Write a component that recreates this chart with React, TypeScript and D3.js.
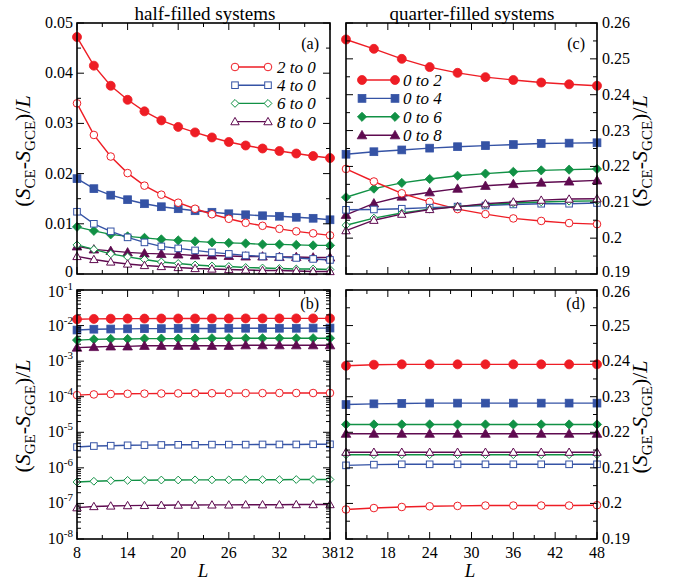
import * as d3 from "d3";

// System sizes
const L_HALF = [8, 10, 12, 14, 16, 18, 20, 22, 24, 26, 28, 30, 32, 34, 36, 38];
const L_QUARTER = [12, 16, 20, 24, 28, 32, 36, 40, 44, 48];

// (a) half-filled, CE - GCE
const aRedFilled = [0.0472, 0.0415, 0.0375, 0.0347, 0.0324, 0.0306, 0.0293, 0.0282, 0.0272, 0.0263, 0.0256, 0.025, 0.0245, 0.024, 0.0235, 0.0231];
const aRedOpen = [0.034, 0.0277, 0.0234, 0.0201, 0.0176, 0.0158, 0.0142, 0.013, 0.0119, 0.011, 0.0102, 0.0096, 0.009, 0.0085, 0.0081, 0.0077];
const aBlueFilled = [0.019, 0.017, 0.0157, 0.0148, 0.014, 0.0134, 0.013, 0.0126, 0.0123, 0.012, 0.0118, 0.0116, 0.0115, 0.0113, 0.0111, 0.0108];
const aBlueOpen = [0.0124, 0.01, 0.0085, 0.0073, 0.0063, 0.0055, 0.0051, 0.0047, 0.0043, 0.004, 0.0037, 0.0035, 0.0034, 0.0032, 0.003, 0.0028];
const aGreenFilled = [0.0094, 0.0086, 0.0079, 0.0075, 0.0072, 0.0069, 0.0067, 0.0065, 0.0063, 0.0062, 0.0061, 0.0059, 0.0059, 0.0058, 0.0057, 0.0057];
const aGreenOpen = [0.0058, 0.0049, 0.004, 0.0034, 0.0029, 0.0024, 0.0021, 0.0018, 0.0016, 0.0015, 0.0013, 0.0012, 0.0011, 0.001, 0.001, 0.0009];
const aPurpleFilled = [0.0055, 0.0049, 0.0046, 0.0043, 0.0041, 0.004, 0.0039, 0.0037, 0.0037, 0.0036, 0.0035, 0.0035, 0.0034, 0.0034, 0.0033, 0.0033];
const aPurpleOpen = [0.0035, 0.0029, 0.0024, 0.002, 0.0017, 0.0015, 0.0013, 0.0011, 0.001, 0.0009, 0.0008, 0.0007, 0.0007, 0.0006, 0.0005, 0.0005];

// (b) half-filled, GE - GGE (log)
const bRedFilled = [0.015, 0.0154, 0.0156, 0.0157, 0.0157, 0.0158, 0.0158, 0.0158, 0.0158, 0.0158, 0.0159, 0.0159, 0.0159, 0.0159, 0.0159, 0.0159];
const bBlueFilled = [0.0075, 0.0079, 0.008, 0.0081, 0.0082, 0.0082, 0.0083, 0.0083, 0.0083, 0.0084, 0.0084, 0.0084, 0.0084, 0.0084, 0.0085, 0.0085];
const bGreenFilled = [0.0039, 0.0041, 0.0042, 0.0042, 0.0043, 0.0043, 0.0043, 0.0043, 0.0044, 0.0044, 0.0044, 0.0044, 0.0044, 0.0044, 0.0044, 0.0044];
const bPurpleFilled = [0.0024, 0.0025, 0.0026, 0.0026, 0.0027, 0.0027, 0.0027, 0.0027, 0.0027, 0.0027, 0.0028, 0.0028, 0.0028, 0.0028, 0.0028, 0.0028];
const bRedOpen = [1.11e-4, 1.16e-4, 1.19e-4, 1.21e-4, 1.22e-4, 1.23e-4, 1.24e-4, 1.25e-4, 1.25e-4, 1.26e-4, 1.26e-4, 1.26e-4, 1.27e-4, 1.27e-4, 1.27e-4, 1.27e-4];
const bBlueOpen = [3.85e-6, 4.1e-6, 4.2e-6, 4.3e-6, 4.35e-6, 4.4e-6, 4.45e-6, 4.45e-6, 4.5e-6, 4.5e-6, 4.5e-6, 4.55e-6, 4.55e-6, 4.55e-6, 4.6e-6, 4.6e-6];
const bGreenOpen = [4.0e-7, 4.2e-7, 4.35e-7, 4.45e-7, 4.5e-7, 4.55e-7, 4.55e-7, 4.6e-7, 4.6e-7, 4.6e-7, 4.65e-7, 4.65e-7, 4.65e-7, 4.7e-7, 4.7e-7, 4.7e-7];
const bPurpleOpen = [7.6e-8, 8.2e-8, 8.5e-8, 8.7e-8, 8.8e-8, 8.9e-8, 9.0e-8, 9.0e-8, 9.1e-8, 9.1e-8, 9.2e-8, 9.2e-8, 9.2e-8, 9.3e-8, 9.3e-8, 9.3e-8];

// (c) quarter-filled, CE - GCE
const cRedFilled = [0.2554, 0.2528, 0.25, 0.2477, 0.2461, 0.2449, 0.2441, 0.2434, 0.2429, 0.2425];
const cBlueFilled = [0.2234, 0.2241, 0.2246, 0.2251, 0.2255, 0.2258, 0.2261, 0.2264, 0.2265, 0.2266];
const cGreenFilled = [0.2114, 0.2138, 0.2154, 0.2165, 0.2174, 0.218, 0.2185, 0.2189, 0.2191, 0.2193];
const cPurpleFilled = [0.2065, 0.2097, 0.2116, 0.2128, 0.2138, 0.2146, 0.2151, 0.2155, 0.2158, 0.2161];
const cRedOpen = [0.2193, 0.2158, 0.2125, 0.2101, 0.2081, 0.2067, 0.2055, 0.2048, 0.2042, 0.2039];
const cBlueOpen = [0.2079, 0.208, 0.2082, 0.2085, 0.2088, 0.2091, 0.2094, 0.2096, 0.2096, 0.2098];
const cGreenOpen = [0.2036, 0.2056, 0.207, 0.2081, 0.2088, 0.2094, 0.2098, 0.2101, 0.2103, 0.2104];
const cPurpleOpen = [0.2021, 0.205, 0.2067, 0.208, 0.2088, 0.2096, 0.2101, 0.2106, 0.2109, 0.211];

// (d) quarter-filled, GE - GGE
const dRedFilled = [0.2387, 0.239, 0.2391, 0.2391, 0.2391, 0.2391, 0.2391, 0.2391, 0.2391, 0.2391];
const dBlueFilled = [0.2278, 0.228, 0.2281, 0.2282, 0.2282, 0.2282, 0.2282, 0.2282, 0.2282, 0.2282];
const dGreenFilled = [0.2222, 0.2222, 0.2222, 0.2222, 0.2222, 0.2222, 0.2222, 0.2222, 0.2222, 0.2222];
const dPurpleFilled = [0.2196, 0.2196, 0.2196, 0.2196, 0.2196, 0.2196, 0.2196, 0.2196, 0.2196, 0.2196];
const dPurpleOpen = [0.2144, 0.2144, 0.2144, 0.2144, 0.2144, 0.2144, 0.2144, 0.2144, 0.2144, 0.2144];
const dGreenOpen = [0.2137, 0.2137, 0.2137, 0.2137, 0.2137, 0.2137, 0.2137, 0.2137, 0.2137, 0.2137];
const dBlueOpen = [0.2107, 0.2109, 0.211, 0.211, 0.211, 0.211, 0.211, 0.211, 0.211, 0.211];
const dRedOpen = [0.1983, 0.1987, 0.199, 0.1992, 0.1993, 0.1994, 0.1994, 0.1994, 0.1994, 0.1995];

const legendHalf = ["2 to 0", "4 to 0", "6 to 0", "8 to 0"];
const legendQuarter = ["0 to 2", "0 to 4", "0 to 6", "0 to 8"];

const RED = "#ee1d25";
const BLUE = "#3553a5";
const GREEN = "#119145";
const PURPLE = "#5f0b50";
const COLORS = [RED, BLUE, GREEN, PURPLE];
const SHAPES = ["circle", "square", "diamond", "triangle"];

const FONT = "Liberation Serif, serif";

type Series = { values: number[]; color: string; shape: string; filled: boolean };

const marker = (shape: string, x: number, y: number, color: string, filled: boolean, key: string) => {
  const fill = filled ? color : "white";
  const r = filled ? 4.5 : 3.8;
  const sw = filled ? 0.8 : 1;
  if (shape === "circle")
    return <circle key={key} cx={x} cy={y} r={r} fill={fill} stroke={color} strokeWidth={sw} />;
  if (shape === "square") {
    const s = filled ? 3.9 : 3.3;
    return <rect key={key} x={x - s} y={y - s} width={2 * s} height={2 * s} fill={fill} stroke={color} strokeWidth={sw} />;
  }
  if (shape === "diamond") {
    const s = filled ? 4.6 : 3.9;
    return <path key={key} d={`M${x},${y - s}L${x + s},${y}L${x},${y + s}L${x - s},${y}Z`} fill={fill} stroke={color} strokeWidth={sw} />;
  }
  const s = filled ? 4.8 : 4.2;
  return <path key={key} d={`M${x},${y - s}L${x + s},${y + s * 0.75}L${x - s},${y + s * 0.75}Z`} fill={fill} stroke={color} strokeWidth={sw} />;
};

const seriesMarks = (series: Series[], xs: number[], x: (v: number) => number, y: (v: number) => number, id: string) => {
  const line = d3.line<number>().x((_, i) => x(xs[i])).y(d => y(d));
  return series.map((s, si) => (
    <g key={`${id}-${si}`}>
      <path d={line(s.values) || ""} fill="none" stroke={s.color} strokeWidth={1.4} />
      {s.values.map((v, i) => marker(s.shape, x(xs[i]), y(v), s.color, s.filled, `${id}-${si}-${i}`))}
    </g>
  ));
};

const build = (filled: number[][], open: number[][]): Series[] => [
  ...filled.map((v, i) => ({ values: v, color: COLORS[i], shape: SHAPES[i], filled: true })),
  ...open.map((v, i) => ({ values: v, color: COLORS[i], shape: SHAPES[i], filled: false })),
];

const YLabel = ({ x, y, a, b }: { x: number; y: number; a: string; b: string }) => (
  <text transform={`translate(${x},${y}) rotate(-90)`} textAnchor="middle" style={{ fontFamily: FONT }} fontSize={22}>
    (<tspan fontStyle="italic">S</tspan>
    <tspan fontSize={15} dy={5}>{a}</tspan>
    <tspan dy={-5}>-</tspan>
    <tspan fontStyle="italic">S</tspan>
    <tspan fontSize={15} dy={5}>{b}</tspan>
    <tspan dy={-5}>)/</tspan>
    <tspan fontStyle="italic">L</tspan>
  </text>
);

export default function App() {
  const W = 674, H = 582;
  const leftX = [77, 330], rightX = [346, 597];
  const topY = [274, 23], botY = [539, 290];

  const xHalf = d3.scaleLinear().domain([8, 38]).range(leftX);
  const xQuarter = d3.scaleLinear().domain([12, 48]).range(rightX);
  const yA = d3.scaleLinear().domain([0, 0.05]).range(topY);
  const yB = d3.scaleLog().domain([1e-8, 1e-1]).range(botY);
  const yC = d3.scaleLinear().domain([0.19, 0.26]).range(topY);
  const yD = d3.scaleLinear().domain([0.19, 0.26]).range(botY);

  const seriesA = build([aRedFilled, aBlueFilled, aGreenFilled, aPurpleFilled], [aRedOpen, aBlueOpen, aGreenOpen, aPurpleOpen]);
  const seriesB = build([bRedFilled, bBlueFilled, bGreenFilled, bPurpleFilled], [bRedOpen, bBlueOpen, bGreenOpen, bPurpleOpen]);
  const seriesC = build([cRedFilled, cBlueFilled, cGreenFilled, cPurpleFilled], [cRedOpen, cBlueOpen, cGreenOpen, cPurpleOpen]);
  const seriesD = build([dRedFilled, dBlueFilled, dGreenFilled, dPurpleFilled], [dRedOpen, dBlueOpen, dGreenOpen, dPurpleOpen]);

  const xTicksHalf = d3.range(8, 38.01, 3);
  const xTicksQuarter = d3.range(12, 48.01, 3);
  const linTicks = (lo: number, hi: number, step: number) => d3.range(0, Math.round((hi - lo) / step) + 1).map(i => lo + i * step);

  const frame = (
    xs: d3.ScaleLinear<number, number>,
    ys: any,
    xt: number[],
    xMajor: (v: number) => boolean,
    yt: number[],
    yMajor: (v: number) => boolean,
    key: string
  ) => {
    const [x0, x1] = xs.range();
    const [y0, y1] = ys.range();
    return (
      <g key={key} stroke="black" strokeWidth={1}>
        {xt.map((t, i) => {
          const len = xMajor(t) ? 7 : 4;
          const px = xs(t);
          return (
            <g key={`x${i}`}>
              <line x1={px} x2={px} y1={y0} y2={y0 - len} />
              <line x1={px} x2={px} y1={y1} y2={y1 + len} />
            </g>
          );
        })}
        {yt.map((t, i) => {
          const len = yMajor(t) ? 7 : 4;
          const py = ys(t);
          return (
            <g key={`y${i}`}>
              <line x1={x0} x2={x0 + len} y1={py} y2={py} />
              <line x1={x1} x2={x1 - len} y1={py} y2={py} />
            </g>
          );
        })}
        <rect x={x0} y={y1} width={x1 - x0} height={y0 - y1} fill="none" strokeWidth={1.6} />
      </g>
    );
  };

  const isHalfMajor = (v: number) => (Math.round(v) - 8) % 6 === 0;
  const isQuarterMajor = (v: number) => (Math.round(v) - 12) % 6 === 0;
  const aTicks = linTicks(0, 0.05, 0.005);
  const cTicks = linTicks(0.19, 0.26, 0.005);
  const majorLin = (v: number) => Math.abs(Math.round(v * 100) - v * 100) < 1e-6;
  const logTicks: number[] = [];
  for (let e = -8; e < -1; e++) for (let m = 1; m < 10; m++) logTicks.push(m * Math.pow(10, e));
  logTicks.push(0.1);
  const isDecade = (v: number) => Math.abs(Math.log10(v) - Math.round(Math.log10(v))) < 1e-6;

  const decades = d3.range(-8, 0);

  return (
    <svg width={W} height={H} style={{ position: "absolute", left: 0, top: 0, background: "white", fontFamily: FONT }}>
      {/* titles */}
      <text x={205} y={20} textAnchor="middle" fontSize={19}>half-filled systems</text>
      <text x={472} y={20} textAnchor="middle" fontSize={19}>quarter-filled systems</text>

      {seriesMarks(seriesA, L_HALF, xHalf, yA, "a")}
      {seriesMarks(seriesB, L_HALF, xHalf, yB, "b")}
      {seriesMarks(seriesC, L_QUARTER, xQuarter, yC, "c")}
      {seriesMarks(seriesD, L_QUARTER, xQuarter, yD, "d")}

      {frame(xHalf, yA, xTicksHalf, isHalfMajor, aTicks, majorLin, "fa")}
      {frame(xHalf, yB, xTicksHalf, isHalfMajor, logTicks, isDecade, "fb")}
      {frame(xQuarter, yC, xTicksQuarter, isQuarterMajor, cTicks, majorLin, "fc")}
      {frame(xQuarter, yD, xTicksQuarter, isQuarterMajor, cTicks, majorLin, "fd")}

      {/* y tick labels (a) */}
      {linTicks(0, 0.05, 0.01).map((t, i) => (
        <text key={`ya${i}`} x={73} y={yA(t) + (i === 0 ? 3 : 5)} textAnchor="end" fontSize={16}>{i === 0 ? "0" : d3.format(".2f")(t)}</text>
      ))}
      {/* y tick labels (b) */}
      {decades.map(e => (
        <text key={`yb${e}`} x={73} y={yB(Math.pow(10, e)) + (e === -1 ? 7 : 5)} textAnchor="end" fontSize={16}>
          10<tspan fontSize={11} dy={-7}>{e}</tspan>
        </text>
      ))}
      {/* y tick labels (c), (d) */}
      {linTicks(0.19, 0.26, 0.01).map((t, i) => (
        <g key={`ycd${i}`}>
          <text x={602} y={yC(t) + (i === 0 ? 3 : 5)} fontSize={16}>{d3.format(".2~f")(t)}</text>
          <text x={602} y={yD(t) + (i === 7 ? 7 : 5)} fontSize={16}>{d3.format(".2~f")(t)}</text>
        </g>
      ))}
      {/* x tick labels */}
      {xTicksHalf.filter(isHalfMajor).map(t => (
        <text key={`xh${t}`} x={xHalf(t)} y={558} textAnchor="middle" fontSize={16}>{t}</text>
      ))}
      {xTicksQuarter.filter(isQuarterMajor).map(t => (
        <text key={`xq${t}`} x={xQuarter(t)} y={558} textAnchor="middle" fontSize={16}>{t}</text>
      ))}
      <text x={203} y={577} textAnchor="middle" fontSize={19} fontStyle="italic">L</text>
      <text x={470} y={577} textAnchor="middle" fontSize={19} fontStyle="italic">L</text>

      {/* panel labels */}
      <text x={319} y={49} textAnchor="end" fontSize={16}>(a)</text>
      <text x={319} y={309} textAnchor="end" fontSize={16}>(b)</text>
      <text x={585} y={49} textAnchor="end" fontSize={16}>(c)</text>
      <text x={585} y={309} textAnchor="end" fontSize={16}>(d)</text>

      {/* legend (a) */}
      {legendHalf.map((name, i) => {
        const y = 67 + i * 18.2;
        return (
          <g key={`lh${i}`}>
            <line x1={235} x2={268} y1={y} y2={y} stroke={COLORS[i]} strokeWidth={1.4} />
            {marker(SHAPES[i], 235, y, COLORS[i], false, `lha${i}`)}
            {marker(SHAPES[i], 268, y, COLORS[i], false, `lhb${i}`)}
            <text x={277} y={y + 6} fontSize={17} fontStyle="italic">{name}</text>
          </g>
        );
      })}
      {/* legend (c) */}
      {legendQuarter.map((name, i) => {
        const y = 80 + i * 18.4;
        return (
          <g key={`lq${i}`}>
            <line x1={362} x2={395} y1={y} y2={y} stroke={COLORS[i]} strokeWidth={1.4} />
            {marker(SHAPES[i], 362, y, COLORS[i], true, `lqa${i}`)}
            {marker(SHAPES[i], 395, y, COLORS[i], true, `lqb${i}`)}
            <text x={403} y={y + 6} fontSize={17} fontStyle="italic">{name}</text>
          </g>
        );
      })}

      {/* axis titles */}
      <YLabel x={30} y={151} a="CE" b="GCE" />
      <YLabel x={30} y={416} a="GE" b="GGE" />
      <YLabel x={647} y={151} a="CE" b="GCE" />
      <YLabel x={647} y={417} a="GE" b="GGE" />
    </svg>
  );
}
